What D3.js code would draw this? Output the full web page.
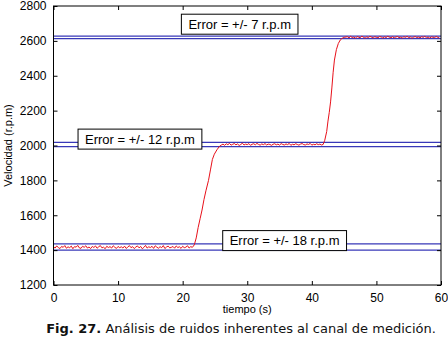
<!DOCTYPE html>
<html><head><meta charset="utf-8">
<script src="https://cdn.jsdelivr.net/npm/d3@7/dist/d3.min.js"></script>
<style>body{margin:0;background:#fff}svg{display:block}</style>
</head><body><svg id="c" width="448" height="340"></svg>
<script>
// time samples (s) and speed values (r.p.m)
const flat1T = d3.range(0, 21.51, 0.25);
const flat1V = [1418,1412,1424,1415,1409,1421,1416,1426,1411,1419,1414,1423,1408,1420,1417,1427,1413,1410,1422,1416,1425,1412,1418,1409,1421,1415,1424,1411,1419,1426,1413,1417,1408,1422,1415,1420,1412,1425,1416,1410,1421,1414,1419,1412,
  1423,1410,1417,1426,1414,1420,1409,1418,1424,1413,1421,1408,1416,1427,1412,1419,1415,1422,1410,1425,1417,1411,1420,1414,1426,1409,1418,1423,1413,1416,1421,1411,1424,1415,1419,1410,1422,1414,1417,1425,1412,1420,1416];
const rise1T = [21.8,22.1,22.4,22.7,23.0,23.3,23.6,24.0,24.3,24.6,24.9,25.3,25.7];
const rise1V = [1430,1470,1530,1580,1630,1690,1740,1800,1860,1920,1950,1975,1995];
const flat2T = d3.range(26, 42.01, 0.25);
const flat2V = [2003,2008,2001,2010,2005,2012,2002,2007,2011,2004,2009,2000,2006,2013,2003,2008,2005,2011,2001,2007,2010,2004,2012,2006,2002,2009,2005,2011,2003,2008,2006,2001,2007,
  2010,2004,2008,2002,2011,2006,2003,2009,2005,2012,2001,2007,2004,2010,2006,2002,2008,2011,2005,2003,2009,2006,2012,2002,2007,2004,2010,2005,2008,2003,2006];
const rise2T = [42.3,42.5,42.7,42.9,43.1,43.3,43.5,43.8,44.1,44.4,44.7,45.0];
const rise2V = [2030,2080,2140,2190,2250,2330,2420,2490,2550,2585,2605,2615];
const flat3T = d3.range(45.5, 60.01, 0.25);
const flat3V = [2620,2624,2617,2626,2619,2622,2615,2625,2621,2618,2627,2620,2616,2623,2619,2626,2621,2617,2624,2620,2618,2625,2622,2616,2623,2619,2626,2621,2618,2624,
  2617,2622,2625,2619,2621,2616,2624,2620,2626,2618,2623,2615,2621,2625,2619,2622,2617,2624,2620,2626,2618,2622,2616,2623,2621,2619,2625,2620,2617];

const bandLines = [1400, 1436, 1994, 2018, 2613, 2627];
const notes = [
  {text:"Error = +/- 7 r.p.m", x:19.8, y:2753},
  {text:"Error = +/- 12 r.p.m", x:3.8, y:2094},
  {text:"Error = +/- 18 r.p.m", x:26.2, y:1512}
];
const xTicks = [0,10,20,30,40,50,60];
const yTicks = [1200,1400,1600,1800,2000,2200,2400,2600,2800];

const T = [...flat1T, ...rise1T, ...flat2T, ...rise2T, ...flat3T];
const V = [...flat1V, ...rise1V, ...flat2V, ...rise2V, ...flat3V];
const data = T.map((t,i)=>({t, v:V[i]})).filter(d=>d.v!==undefined);

const svg = d3.select("#c");
const L=53.5, R=441, Tp=6, B=285;
const x = d3.scaleLinear().domain([0,60]).range([L,R]);
const y = d3.scaleLinear().domain([1200,2800]).range([B,Tp]);
const font = "Liberation Sans, Arial, sans-serif";

svg.append("rect").attr("x",L).attr("y",Tp).attr("width",R-L).attr("height",B-Tp).attr("fill","#fff");

// band lines
svg.selectAll("line.band").data(bandLines).enter().append("line")
  .attr("x1",L).attr("x2",R).attr("y1",d=>y(d)).attr("y2",d=>y(d))
  .attr("stroke","#3838b8").attr("stroke-width",1.2);

// data line
svg.append("path").datum(data)
  .attr("d", d3.line().x(d=>x(d.t)).y(d=>y(d.v)))
  .attr("fill","none").attr("stroke","#e8101a").attr("stroke-width",1);

// axes (inward ticks, mirrored)
const ax = (g, gen) => { g.call(gen); g.select(".domain").remove(); g.selectAll("text").attr("font-family",font).attr("font-size",12).attr("fill","#000"); g.selectAll("line").attr("stroke","#000"); };
svg.append("g").attr("transform",`translate(0,${B})`).call(g=>ax(g, d3.axisBottom(x).tickValues(xTicks).tickSize(-4).tickPadding(8).tickFormat(d3.format("d"))));
svg.append("g").attr("transform",`translate(0,${Tp})`).call(g=>ax(g, d3.axisTop(x).tickValues(xTicks).tickSize(-4).tickFormat("")));
svg.append("g").attr("transform",`translate(${L},0)`).call(g=>ax(g, d3.axisLeft(y).tickValues(yTicks).tickSize(-4).tickPadding(7).tickFormat(d3.format("d"))));
svg.append("g").attr("transform",`translate(${R},0)`).call(g=>ax(g, d3.axisRight(y).tickValues(yTicks).tickSize(-4).tickFormat("")));

svg.append("rect").attr("x",L).attr("y",Tp).attr("width",R-L).attr("height",B-Tp)
  .attr("fill","none").attr("stroke","#000").attr("stroke-width",1);

// annotation boxes
notes.forEach(n=>{
  const g = svg.append("g");
  const t = g.append("text").attr("x",x(n.x)+7).attr("y",y(n.y)+14.5)
    .attr("font-family",font).attr("font-size",13).text(n.text);
  const bb = t.node().getBBox();
  g.insert("rect","text").attr("x",x(n.x)).attr("y",y(n.y))
    .attr("width",bb.width+14).attr("height",20)
    .attr("fill","#fff").attr("stroke","#000").attr("stroke-width",1);
});

// axis labels
svg.append("text").attr("x",(L+R)/2).attr("y",313).attr("text-anchor","middle")
  .attr("font-family",font).attr("font-size",11).text("tiempo (s)");
svg.append("text").attr("transform",`translate(12,${(Tp+B)/2}) rotate(-90)`).attr("text-anchor","middle")
  .attr("font-family",font).attr("font-size",11).text("Velocidad (r.p.m)");

// caption
const cap = svg.append("text").attr("x",241).attr("y",333).attr("text-anchor","middle")
  .attr("font-family","DejaVu Sans, Verdana, sans-serif").attr("font-size",13).attr("fill","#111");
cap.append("tspan").attr("font-weight","bold").text("Fig. 27.");
cap.append("tspan").text(" Análisis de ruidos inherentes al canal de medición.");
</script></body></html>
